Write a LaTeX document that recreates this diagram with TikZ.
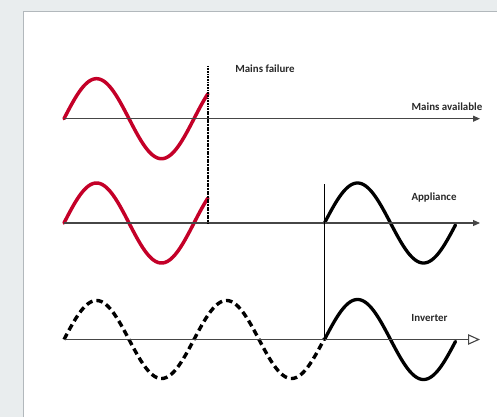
\documentclass[tikz,border=0pt]{standalone}
\usepackage{fontspec}
\setmainfont{Carlito}
\usetikzlibrary{arrows.meta}
\definecolor{bggrey}{RGB}{233,237,238}
\definecolor{panelline}{RGB}{178,184,188}
\definecolor{mainsred}{RGB}{196,0,40}
\definecolor{axisgrey}{RGB}{70,70,70}
\definecolor{labelgrey}{RGB}{40,40,40}
\tikzset{
  axisline/.style={draw=axisgrey, line width=1.1pt},
  redwave/.style={draw=mainsred, line width=3.5pt, line cap=round},
  blackwave/.style={draw=black, line width=3.3pt, line cap=round},
  dashwave/.style={draw=black, line width=3.4pt, dash pattern=on 6.5pt off 4pt},
  failline/.style={draw=black, line width=1.7pt, dash pattern=on 1.1pt off 0.5pt},
  switchline/.style={draw=black, line width=1.3pt},
  lbl/.style={text=labelgrey, font=\bfseries\fontsize{10.9}{13}\selectfont, inner sep=0pt},
}
\begin{document}
\begin{tikzpicture}[x=1pt,y=-1pt]
  \useasboundingbox (0,0) rectangle (497,417);
  \fill[bggrey] (0,0) rectangle (497,417);
  \fill[white] (23,11) rectangle (497,417);
  \draw[panelline, line width=0.8pt] (23,417) -- (23,11) -- (497,11);

  % axes coordinates
  \coordinate (a1s) at (64,118.7);
  \coordinate (a1e) at (480,118.7);
  \coordinate (a2s) at (64,223);
  \coordinate (a2e) at (480,223);
  \coordinate (a3s) at (64,339.5);
  \coordinate (a3e) at (480,339.5);

  % failure and switch points
  \coordinate (f1) at (208,66);
  \coordinate (f2) at (208,223);
  \coordinate (s1) at (324.5,184);
  \coordinate (s2) at (324.5,339.5);

  % waves
  \draw[redwave] plot[domain=0:144, samples=120] ({64+\x}, {118.7-40*sin(\x/130*360)});
  \draw[redwave] plot[domain=0:144, samples=120] ({64+\x}, {223-40*sin(\x/130*360)});
  \draw[blackwave] plot[domain=0:131, samples=120] ({324.5+\x}, {223-40*sin(\x/132*360)});
  \draw[dashwave] plot[domain=0:260.5, samples=200] ({64+\x}, {339.5-39*sin(\x/130*360)});
  \draw[blackwave] plot[domain=0:131, samples=120] ({324.5+\x}, {339.5-40*sin(\x/132*360)});

  % axes
  \draw[axisline, -{Triangle[length=7pt,width=6pt]}] (a1s) -- (a1e);
  \draw[axisline, -{Triangle[length=7pt,width=6pt]}] (a2s) -- (a2e);
  \draw[axisline, -{Triangle[open,length=12pt,width=10.5pt,line width=1.1pt]}] (a3s) -- (a3e);

  % vertical lines
  \draw[failline] (f1) -- (f2);
  \draw[switchline] (s1) -- (s2);

  % labels
  \node[lbl] (lfail) at (265,68.5) {Mains failure};
  \node[lbl, anchor=east] (lavail) at (482.5,106.5) {Mains available};
  \node[lbl] (lapp) at (434,197.5) {Appliance};
  \node[lbl] (linv) at (429.5,318.5) {Inverter};
\end{tikzpicture}
\end{document}
